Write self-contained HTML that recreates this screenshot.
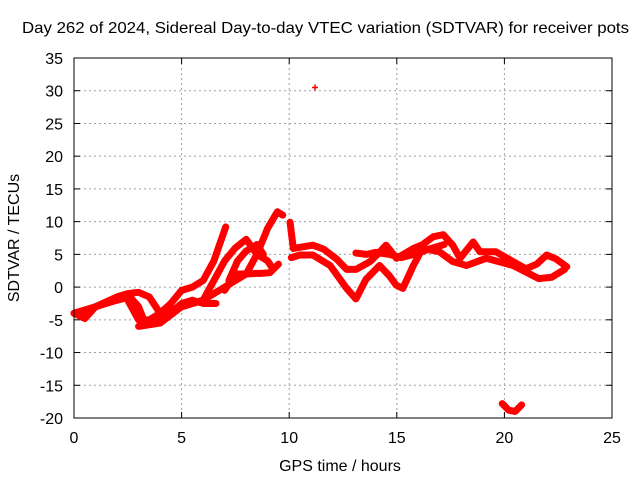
<!DOCTYPE html>
<html><head><meta charset="utf-8"><style>
body{margin:0;background:#fff}
svg text{font-family:"Liberation Sans",sans-serif;font-size:16px;fill:#000}
</style></head><body>
<svg id="chart" width="640" height="480" xmlns="http://www.w3.org/2000/svg">
<rect width="640" height="480" fill="#fff"/>
<text x="22" y="33" textLength="607" lengthAdjust="spacingAndGlyphs">Day 262 of 2024, Sidereal Day-to-day VTEC variation (SDTVAR) for receiver pots</text>
<text x="340" y="471" text-anchor="middle">GPS time / hours</text>
<text transform="translate(19,238) rotate(-90)" text-anchor="middle">SDTVAR / TECUs</text>
<g id="grid"></g><g id="ticks"></g><g id="marks"></g>
<rect x="74" y="58" width="538" height="360" fill="none" stroke="#000" stroke-width="1"/>
</svg>
<script>
const xTicks=[0,5,10,15,20,25];
const yTicks=[35,30,25,20,15,10,5,0,-5,-10,-15,-20];
const trackA_t=[0,0.5,1,1.5,2,2.6,3,3.3,3.8,4.3,5,5.5,6,6.6];
const trackA_v=[-4,-4.8,-3,-2.5,-2,-1.5,-3,-5.5,-5.5,-4.5,-2.5,-2,-2.5,-2.5];
const trackB_t=[0,0.5,1,2,2.5,3,3.5,4,4.5,5,5.5,6,6.5,7.05];
const trackB_v=[-4,-3.5,-3,-1.5,-1,-0.8,-1.5,-4,-2.5,-0.5,0,1,4,9.2];
const trackC_t=[2.5,3,3.5,4,5,6,6.5,7,7.5,8,8.5,9,9.2];
const trackC_v=[-2,-5,-5,-4,-3,-2,1,4,6,7.3,5,4,3];
const trackD_t=[3,4,5,6,7,7.5,8,8.5,9,9.45,9.7];
const trackD_v=[-6,-5.5,-3,-2,0,1,2,5,9,11.5,11];
const trackE_t=[7,7.5,8,8.5,8.7,9.1,9.5];
const trackE_v=[-0.5,2,2,2.1,2.1,2.2,3.5];
const trackF_t=[7.2,7.6,8,8.5,8.8];
const trackF_v=[1,4,5.5,6.5,5];
const trackG_t=[10.04,10.19,11.1,11.6,12.2,12.67,13.1,13.76,14.1,14.5,14.99,15.77,16.2,16.7,17.16,17.6,17.94,18.55,18.86,19.6,20.4,21,21.5,21.96,22.4,22.9];
const trackG_v=[9.9,5.9,6.4,5.8,4.3,2.7,2.7,3.9,5,6.4,4.4,5.9,6.5,7.7,8,6.4,4.4,6.9,5.4,5.4,3.9,2.8,3.5,4.9,4.3,3.1];
const trackH_t=[10.1,10.5,11.1,11.9,12.67,13.1,13.57,14.2,14.66,14.97,15.28,15.77,16.2,16.98,17.6,18.24,19.15,20.4,21.6,22.2,22.8];
const trackH_v=[4.5,4.9,4.9,3.3,-0.2,-1.8,1.2,3.3,1.7,0.3,-0.2,3.3,5.9,5.4,3.9,3.3,4.4,3.3,1.3,1.5,2.7];
const trackI_t=[13.1,13.6,14,14.66,15.2,15.8,16.5,17.2];
const trackI_v=[5.2,5,5.3,5,4.5,5,5.8,6.5];
const trackJ_t=[19.9,20.2,20.5,20.8];
const trackJ_v=[-17.8,-18.8,-19,-18];
const outlier_t=[11.2];
const outlier_v=[30.5];
const X=t=>74+t*538/25, Y=v=>58+(35-v)*360/55;
const NS="http://www.w3.org/2000/svg";
const grid=document.getElementById('grid'),ticks=document.getElementById('ticks'),marks=document.getElementById('marks');
function mk(tag,parent,attrs){const e=document.createElementNS(NS,tag);for(const k in attrs)e.setAttribute(k,attrs[k]);parent.appendChild(e);return e;}
xTicks.forEach(t=>{
 if(t>0&&t<25){const g=mk('line',grid,{x1:X(t),x2:X(t),y1:58,y2:418,stroke:'#a0a0a0','stroke-dasharray':'2,3'});
 
 }
 mk('line',ticks,{x1:X(t),x2:X(t),y1:418,y2:412,stroke:'#000'});
 mk('line',ticks,{x1:X(t),x2:X(t),y1:58,y2:64,stroke:'#000'});
 const l=mk('text',ticks,{x:X(t),y:443,'text-anchor':'middle'});l.textContent=t;
 
 
});
yTicks.forEach(v=>{
 if(v>-20&&v<35){const g=mk('line',grid,{x1:74,x2:612,y1:Y(v),y2:Y(v),stroke:'#a0a0a0','stroke-dasharray':'2,3'});
 
 }
 mk('line',ticks,{x1:74,x2:80,y1:Y(v),y2:Y(v),stroke:'#000'});
 mk('line',ticks,{x1:612,x2:606,y1:Y(v),y2:Y(v),stroke:'#000'});
 const l=mk('text',ticks,{x:63,y:Y(v)+6,'text-anchor':'end'});l.textContent=v;
 
 
});
const tracks=[[trackA_t,trackA_v],[trackB_t,trackB_v],[trackC_t,trackC_v],[trackD_t,trackD_v],[trackE_t,trackE_v],[trackF_t,trackF_v],[trackG_t,trackG_v],[trackH_t,trackH_v],[trackI_t,trackI_v],[trackJ_t,trackJ_v]];
tracks.forEach(([ts,vs])=>{
 const p=mk('polyline',marks,{points:ts.map((t,i)=>X(t)+','+Y(vs[i])).join(' '),fill:'none',stroke:'#f00','stroke-width':7,'stroke-linejoin':'round','stroke-linecap':'round'});
 
 
});
outlier_t.forEach((t,i)=>{
 const x=X(t),y=Y(outlier_v[i]);
 const p=mk('path',marks,{d:`M${x-3},${y}H${x+3}M${x},${y-3}V${y+3}`,stroke:'#f00','stroke-width':1.5});
 
 
});
</script>
</body></html>
